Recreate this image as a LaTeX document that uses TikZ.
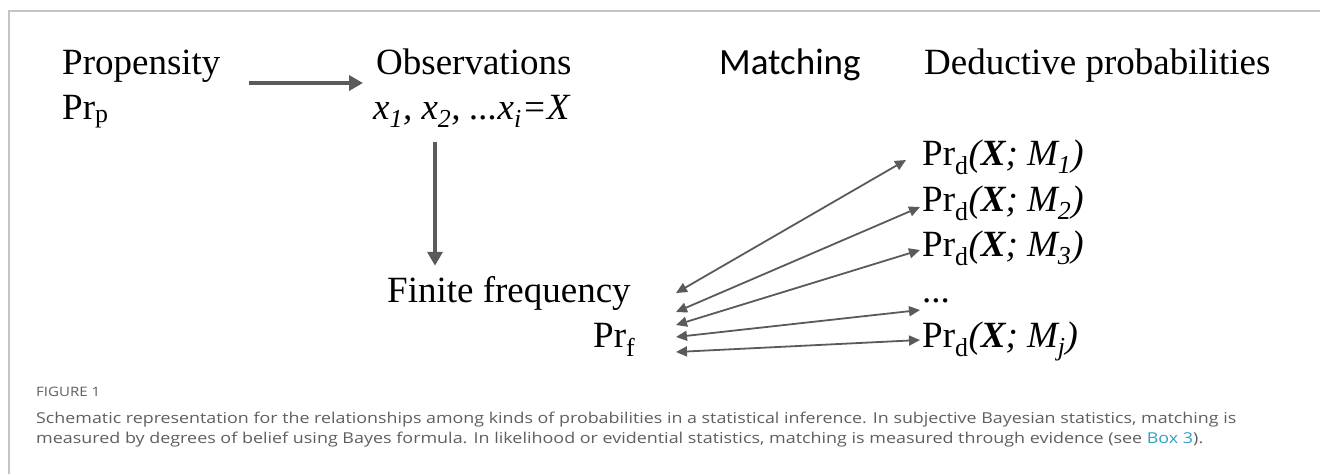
\documentclass[tikz,border=0pt]{standalone}
\usepackage{graphicx}
\usepackage{fontspec}
\setmainfont{Liberation Serif}
\newfontfamily\matchfont{Carlito}
\newfontfamily\capfont{Open Sans}
\usetikzlibrary{arrows.meta}
\definecolor{arrgray}{HTML}{5A5A5A}
\definecolor{capgray}{HTML}{5F5F5F}
\definecolor{rulegray}{HTML}{C4C4C4}
\definecolor{linkteal}{HTML}{2BA3C1}
\newcommand{\bigtxt}{\fontsize{37}{40}\selectfont}
\newcommand{\prd}[1]{Pr\textsubscript{d}\textit{(\textbf{X}; M\textsubscript{#1})}}
\begin{document}
\begin{tikzpicture}[x=1pt,y=-1pt,
 lbl/.style={anchor=base west,inner sep=0pt,font=\bigtxt},
 flow/.style={arrgray,line width=3.8pt,-{Triangle[length=14pt,width=15pt]}},
 match/.style={arrgray,line width=1.8pt,{Triangle[length=11pt,width=10pt]}-{Triangle[length=11pt,width=10pt]}},
 captxt/.style={anchor=base west,inner sep=0pt,font=\capfont\fontsize{15}{17}\selectfont,text=capgray}]
 \useasboundingbox (0,0) rectangle (1320,474);
 \draw[rulegray,line width=1.5pt] (9,474)--(9,11)--(1320,11);
 % top row
 \node[lbl] (prop) at (62,74) {Propensity};
 \node[lbl] (prp) at (62,119) {Pr\textsubscript{p}};
 \node[lbl] (obs) at (376,74) {Observations};
 \node[lbl] (xs) at (373,119) {\textit{x\textsubscript{1}, x\textsubscript{2}, ...x\textsubscript{i}=X}};
 \node[lbl,font=\matchfont\bigtxt] (match) at (719,74) {Matching};
 \node[lbl] (ded) at (924,74) {Deductive probabilities};
 \draw[flow] ([xshift=28pt,yshift=-9pt]prop.base east) -- ([xshift=-13pt,yshift=-9pt]prop.base east -| obs.west);
 % frequencies
 \node[lbl] (fin) at (387,302) {Finite frequency};
 \node[lbl] (prf) at (593,347) {Pr\textsubscript{f}};
 \draw[flow] ([xshift=62pt,yshift=-14pt]xs.south west) -- ([xshift=48pt,yshift=10pt]fin.north west);
 % deductive column
 \node[lbl] (m1) at (922,165) {\prd{1}};
 \node[lbl] (m2) at (922,211) {\prd{2}};
 \node[lbl] (m3) at (922,256) {\prd{3}};
 \node[lbl] (md) at (922,302) {...};
 \node[lbl] (mj) at (922,347) {\prd{j}};
 \foreach \m/\ly/\dx/\dy in {m1/293/-16/5, m2/312/-2/4, m3/325/-2/6, md/337/-2/-8, mj/352/-2/7}{
  \coordinate (l\m) at (676,\ly);
  \draw[match] (l\m) -- ([xshift=\dx pt,yshift=\dy pt]\m.base west);
 }
 % caption
 \node[captxt,font=\capfont\fontsize{13}{15}\selectfont] (fig) at (36,396) {\resizebox{64pt}{\height}{FIGURE 1}};
 \node[captxt] (cap1) at (36,423) {\resizebox{1200pt}{\height}{Schematic representation for the relationships among kinds of probabilities in a statistical inference. In subjective Bayesian statistics, matching is}};
 \node[captxt] (cap2) at (36,443) {\resizebox{1167pt}{\height}{measured by degrees of belief using Bayes formula. In likelihood or evidential statistics, matching is measured through evidence (see \textcolor{linkteal}{Box 3}).}};
\end{tikzpicture}
\end{document}
